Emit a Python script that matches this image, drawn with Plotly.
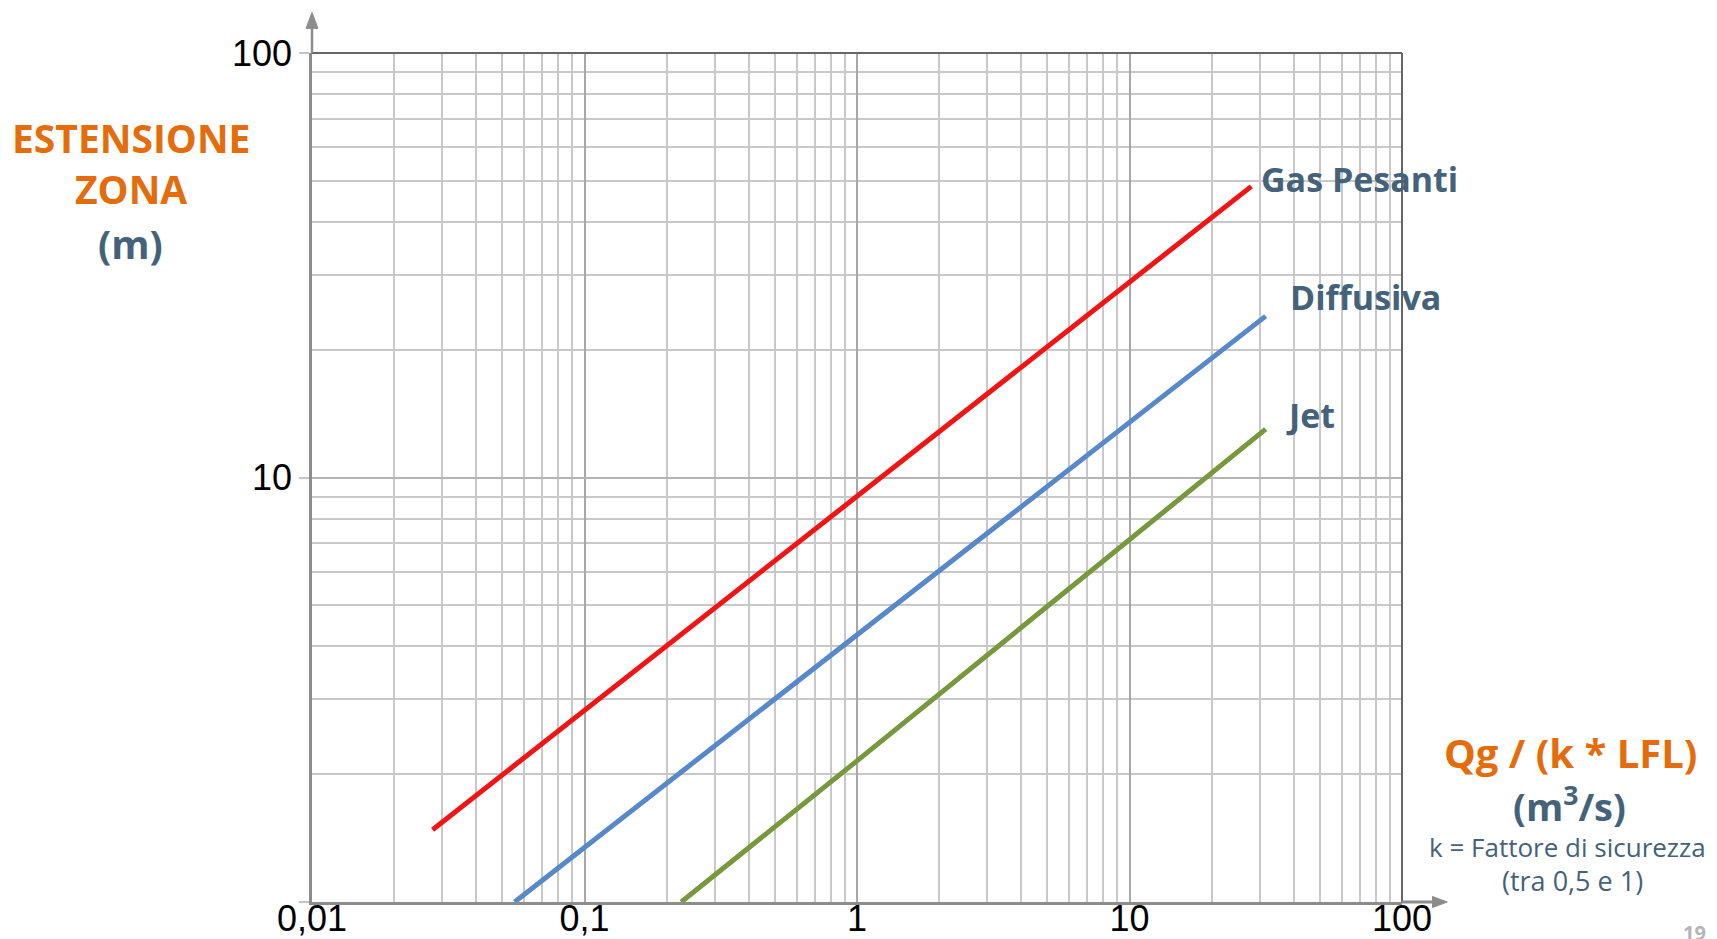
import plotly.graph_objects as go

# ---- data ----
gas_x = [0.0277, 1.0, 28.0]
gas_y = [1.48, 9.0, 48.5]
diff_x = [0.0554, 1.0, 31.6]
diff_y = [1.0, 4.25, 24.0]
jet_x = [0.2265, 1.0, 31.6]
jet_y = [1.0, 2.15, 13.0]

x_tickvals = [0.01, 0.1, 1, 10, 100]
x_ticktext = ["0,01", "0,1", "1", "10", "100"]
y_tickvals = [1, 10, 100]
y_ticktext = ["", "10", "100"]

ORANGE = "#E46C0A"
SLATE = "#44627A"

fig = go.Figure()
fig.add_trace(go.Scatter(x=gas_x, y=gas_y, mode="lines", line=dict(color="#F01414", width=5), name="Gas Pesanti"))
fig.add_trace(go.Scatter(x=diff_x, y=diff_y, mode="lines", line=dict(color="#5788CA", width=5), name="Diffusiva"))
fig.add_trace(go.Scatter(x=jet_x, y=jet_y, mode="lines", line=dict(color="#77983C", width=5), name="Jet"))

minor_x = [m * 10 ** e for e in range(-2, 2) for m in range(2, 10)]
minor_y = [m * 10 ** e for e in range(0, 2) for m in range(2, 10)]

fig.update_xaxes(
    type="log", range=[-2, 2], automargin=False,
    tickmode="array", tickvals=x_tickvals, ticktext=x_ticktext,
    tickfont=dict(family="Liberation Sans", size=36, color="black"),
    ticklabelstandoff=-17,
    showgrid=True, gridcolor="#A8A8A8", gridwidth=1.8,
    minor=dict(tickmode="array", tickvals=minor_x, showgrid=True, gridcolor="#C8C8C8", gridwidth=1.8, ticks=""),
    showline=True, linecolor="#8C8C8C", linewidth=3,
    ticks="", zeroline=False,
)
fig.update_yaxes(
    type="log", range=[0, 2], automargin=False,
    tickmode="array", tickvals=y_tickvals, ticktext=y_ticktext,
    tickfont=dict(family="Liberation Sans", size=36, color="black"),
    showgrid=True, gridcolor="#B4B4B4", gridwidth=1.8,
    minor=dict(tickmode="array", tickvals=minor_y, showgrid=True, gridcolor="#C8C8C8", gridwidth=1.8, ticks=""),
    showline=True, linecolor="#8C8C8C", linewidth=2.5,
    ticks="outside", ticklen=10, tickcolor="#C4C4C4", tickwidth=1.5,
    zeroline=False,
)

# top and right border lines
fig.add_shape(type="line", xref="paper", yref="paper", x0=0, x1=1, y0=1, y1=1, line=dict(color="#666666", width=2))
fig.add_shape(type="line", xref="paper", yref="paper", x0=1, x1=1, y0=0, y1=1, line=dict(color="#666666", width=2))
# axis arrows
fig.add_shape(type="line", xref="paper", yref="paper", x0=0, x1=0, y0=1, y1=1.035, line=dict(color="#8C8C8C", width=2.5))
fig.add_shape(type="path", xref="paper", yref="paper", path="M -0.0055 1.029 L 0 1.0477 L 0.0055 1.029 Z",
              fillcolor="#8C8C8C", line=dict(color="#8C8C8C", width=1))
fig.add_shape(type="line", xref="paper", yref="paper", x0=1, x1=1.035, y0=0, y1=0, line=dict(color="#8C8C8C", width=3))
fig.add_shape(type="path", xref="paper", yref="paper", path="M 1.028 0.0065 L 1.0415 0 L 1.028 -0.0065 Z",
              fillcolor="#8C8C8C", line=dict(color="#8C8C8C", width=1))

anns = []
TF = "Open Sans"
def txt(x, y, s, color, size, bold=True, xanchor="center"):
    anns.append(dict(xref="paper", yref="paper", x=x, y=y, text=(f"<b>{s}</b>" if bold else s),
                     showarrow=False, xanchor=xanchor, yanchor="middle",
                     font=dict(family=TF, size=size, color=color)))

# series labels
txt(0.8687, 0.8513, "Gas Pesanti", SLATE, 34, xanchor="left")
txt(0.8954, 0.7124, "Diffusiva", SLATE, 34, xanchor="left")
txt(0.8916, 0.5734, "Jet", SLATE, 34, xanchor="left")

# y title
txt(-0.1662, 0.9007, "ESTENSIONE", ORANGE, 39)
txt(-0.1662, 0.8407, "ZONA", ORANGE, 39)
txt(-0.1662, 0.7759, "(m)", SLATE, 39)

# x title
txt(1.155, 0.1766, "Qg / (k * LFL)", ORANGE, 40)
txt(1.154, 0.1145, "(m<sup>3</sup>/s)", SLATE, 38)
txt(1.152, 0.0645, "k = Fattore di sicurezza", SLATE, 26, bold=False)
txt(1.156, 0.0259, "(tra 0,5 e 1)", SLATE, 27, bold=False)

# page number
txt(1.268, -0.036, "19", "#B5B5B5", 20)

# the page body adds an 8 px offset, so the figure is 8 px smaller and margins shifted
fig.update_layout(
    width=1709, height=931,
    margin=dict(l=304, r=315, t=45, b=37),
    plot_bgcolor="white", paper_bgcolor="white",
    showlegend=False,
    annotations=anns,
)

fig.write_html("out.html")
